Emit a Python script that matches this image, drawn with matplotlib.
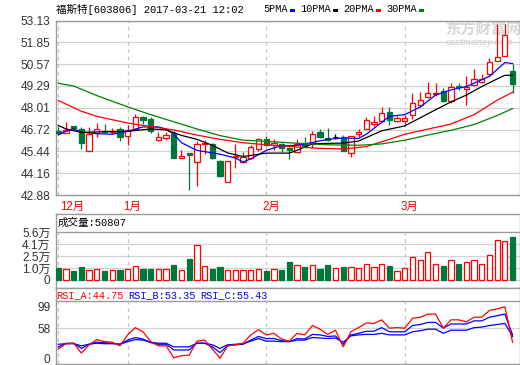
import matplotlib
matplotlib.use('Agg')
import matplotlib.pyplot as plt
import numpy as np
from matplotlib.transforms import blended_transform_factory

# ---------------- data ----------------
opens = [46.62, 46.52, 46.92, 46.78, 45.46, 46.54, 46.66, 46.56, 46.78, 46.33,
         46.78, 47.47, 47.37, 46.11, 46.25, 46.48, 45.05, 45.33, 44.81, 45.89,
         45.89, 44.89, 43.67, 45.10, 44.81, 45.05, 45.58, 46.19, 45.79, 45.87,
         45.67, 45.38, 45.91, 45.89, 46.58, 46.23, 46.31, 46.29, 45.34, 46.46,
         46.76, 47.06, 47.21, 47.77, 47.21, 47.25, 47.55, 48.15, 48.63, 48.83,
         48.98, 48.43, 49.30, 49.12, 49.32, 49.51, 50.01, 50.75, 51.05, 50.16]
highs = [46.85, 47.17, 46.96, 46.88, 46.86, 47.11, 47.07, 46.82, 46.85, 46.97,
         47.61, 47.53, 47.45, 46.58, 46.58, 46.62, 45.50, 45.35, 46.07, 46.13,
         45.95, 44.92, 44.89, 45.89, 45.42, 45.79, 46.23, 46.32, 46.17, 45.95,
         45.72, 46.19, 46.31, 46.62, 46.78, 46.82, 46.47, 46.42, 46.37, 46.78,
         47.47, 47.50, 48.04, 48.06, 47.52, 47.60, 48.85, 48.95, 49.51, 49.48,
         49.14, 49.48, 49.48, 49.87, 50.26, 50.01, 50.95, 52.92, 52.95, 50.56]
lows = [46.40, 46.50, 46.75, 45.58, 45.46, 46.29, 46.50, 46.45, 46.03, 45.82,
        46.70, 47.06, 46.52, 46.07, 46.09, 45.05, 45.05, 43.16, 43.43, 45.28,
        45.01, 43.96, 43.67, 44.46, 44.75, 44.99, 45.44, 45.76, 45.54, 45.40,
        45.01, 45.38, 45.64, 45.64, 46.25, 46.05, 46.15, 45.44, 45.14, 46.26,
        46.76, 46.96, 47.18, 47.01, 47.15, 47.07, 47.37, 48.06, 48.60, 48.67,
        48.35, 48.30, 49.02, 48.15, 49.28, 49.45, 49.87, 50.75, 51.05, 48.89]
closes = [46.52, 46.72, 46.80, 45.93, 46.47, 46.78, 46.58, 46.64, 46.26, 46.72,
          47.47, 47.27, 46.62, 46.29, 46.39, 45.05, 45.18, 45.25, 45.89, 45.96,
          45.08, 44.00, 44.89, 45.18, 45.11, 45.70, 46.15, 45.83, 45.93, 45.64,
          45.50, 45.89, 45.76, 46.47, 46.31, 46.11, 46.31, 45.44, 46.37, 46.58,
          47.31, 47.19, 47.71, 47.31, 47.41, 47.41, 48.30, 48.45, 48.89, 48.89,
          48.39, 49.22, 49.24, 49.24, 49.71, 49.71, 50.72, 51.01, 52.29, 49.42]

# volume in 万 (10k shares)
volumes = [1.41, 1.33, 1.06, 1.53, 1.17, 1.25, 1.06, 1.14, 1.17, 1.29,
           1.60, 1.29, 1.29, 1.25, 1.29, 1.76, 1.17, 2.46, 4.07, 1.60,
           1.29, 1.53, 1.21, 1.21, 1.17, 1.21, 1.25, 1.06, 1.29, 1.17,
           2.11, 1.72, 1.53, 1.72, 1.29, 1.76, 1.37, 1.53, 1.53, 1.37,
           1.88, 1.49, 1.88, 1.64, 1.06, 1.37, 2.66, 2.31, 3.25, 1.88,
           1.64, 2.31, 1.88, 2.11, 2.31, 1.88, 2.90, 4.66, 4.54, 5.08]

# moving averages: (candle index, value)
ma5_idx = [0, 1, 2, 3, 5, 7, 9, 11, 13, 14, 15, 16, 18, 21, 23, 24, 25, 27, 29, 31,
           33, 35, 37, 39, 40, 42, 43, 45, 47, 49, 51, 53, 56, 58, 59]
ma5_val = [46.42, 46.62, 46.76, 46.58, 46.48, 46.45, 46.62, 46.88, 46.88, 46.75,
           46.45, 45.95, 45.50, 45.28, 45.05, 44.82, 45.00, 45.50, 45.78, 45.79,
           45.97, 46.15, 46.23, 46.20, 46.45, 47.15, 47.50, 47.60, 48.05, 48.75,
           49.05, 49.25, 49.85, 50.66, 50.60]
ma10_idx = [0, 1, 3, 6, 9, 12, 14, 16, 18, 20, 22, 24, 27, 30, 31, 33, 37, 39, 40, 42,
            45, 48, 51, 53, 55, 57, 58, 59]
ma10_val = [46.96, 46.76, 46.55, 46.60, 46.62, 46.76, 46.70, 46.38, 46.15, 45.80,
            45.35, 45.14, 45.34, 45.34, 45.50, 45.89, 45.93, 46.05, 46.25, 46.65,
            46.94, 47.65, 48.35, 48.75, 49.25, 49.70, 49.91, 49.91]
ma20_idx = [0, 3, 5, 9, 12, 15, 18, 21, 24, 27, 31, 34, 37, 40, 43, 45, 48, 51, 54, 57, 59]
ma20_val = [48.43, 47.80, 47.50, 47.11, 46.90, 46.70, 46.40, 46.15, 45.95, 45.83,
            45.70, 45.62, 45.58, 45.72, 46.15, 46.45, 46.75, 47.05, 47.60, 48.45, 48.92]
ma30_idx = [0, 2, 5, 9, 12, 15, 18, 21, 24, 27, 31, 35, 39, 42, 45, 48, 51, 54, 57, 59]
ma30_val = [49.44, 49.28, 48.72, 48.06, 47.60, 47.18, 46.76, 46.37, 46.10, 46.03,
            45.92, 45.83, 45.80, 45.88, 46.10, 46.40, 46.68, 47.02, 47.55, 47.96]

rsi_a = [18, 28, 29, 10, 26, 36, 32, 31, 24, 45, 59, 51, 32, 24, 24, 1, 5, 6, 33, 35,
         18, 0, 24, 26, 29, 45, 55, 45, 48, 37, 33, 48, 45, 63, 56, 46, 54, 22, 51, 59,
         68, 67, 74, 58, 59, 58, 77, 79, 85, 85, 58, 74, 74, 70, 79, 79, 92, 95, 99, 31]
rsi_b = [22, 29, 29, 19, 27, 31, 30, 29, 27, 35, 40, 37, 30, 27, 27, 16, 16, 16, 29, 29,
         22, 11, 24, 26, 27, 35, 42, 38, 38, 34, 32, 38, 37, 46, 45, 42, 43, 27, 45, 48,
         52, 52, 59, 51, 51, 51, 63, 65, 69, 69, 58, 66, 66, 66, 72, 72, 79, 82, 85, 45]
rsi_c = [27, 28, 28, 24, 27, 29, 28, 28, 27, 32, 36, 35, 31, 29, 29, 22, 22, 22, 29, 29,
         26, 19, 26, 27, 28, 33, 38, 33, 33, 32, 32, 35, 35, 40, 39, 38, 39, 31, 43, 45,
         46, 46, 48, 45, 45, 45, 51, 53, 56, 56, 48, 54, 54, 54, 59, 60, 63, 65, 67, 42]

price_ticks = [42.88, 44.16, 45.44, 46.72, 48.01, 49.29, 50.57, 51.85, 53.13]
vol_max = 5.6
vol_tick_labels = ['0', '1.0万', '2.5万', '4.1万', '5.6万']
rsi_ticks = [0, 58, 99]
month_labels = ['12月', '1月', '2月', '3月']
month_idx = [0, 9, 27, 45]

title_text = '福斯特[603806] 2017-03-21 12:02'
ma_names = ['5PMA', '10PMA', '20PMA', '30PMA']
vol_title = '成交量:50807'
rsi_titles = ['RSI_A:44.75', 'RSI_B:53.35', 'RSI_C:55.43']

# ---------------- styling ----------------
RED = '#ff0000'
GREEN = '#00773a'
MA_COLORS = ['#0000ff', '#000000', '#ff0000', '#008000']
GRID = '#d2d2d2'
BORDER = '#9a9a9a'
MONO = ['Liberation Mono', 'Noto Sans CJK SC']
plt.rcParams['font.family'] = ['Liberation Sans', 'Noto Sans CJK SC']

W, H = 520, 365
fig = plt.figure(figsize=(W / 100, H / 100), dpi=100)
fig.patch.set_facecolor('white')


def rect(l, t, r, b):
    return [l / W, 1 - b / H, (r - l) / W, (b - t) / H]


ax = fig.add_axes(rect(56, 20.5, 519.5, 195))
axv = fig.add_axes(rect(56, 214.3, 519.5, 288.3))
axr = fig.add_axes(rect(56, 288.3, 519.5, 364))

n = len(closes)
x = np.arange(n)
o = np.array(opens); c = np.array(closes); hi = np.array(highs); lo = np.array(lows)
up = c > o
dn = c < o
flat = c == o
XL = (-0.30, 59.9)
BW = 0.68

for a in (ax, axv, axr):
    a.set_xlim(*XL)
    a.set_xticks([])
    for s in a.spines.values():
        s.set_color(BORDER)
        s.set_linewidth(1.0)
    a.tick_params(axis='y', length=0, pad=4, labelsize=8.6, labelcolor='#333333')
    a.set_axisbelow(True)

# ---- main price panel ----
ax.set_ylim(price_ticks[0], price_ticks[-1])
ax.set_yticks(price_ticks)
ax.set_yticklabels([f'{v:.2f}' for v in price_ticks])
for v in price_ticks:
    ax.axhline(v, color=GRID, lw=0.9, zorder=0.5)
for k in month_idx:
    ax.axvline(k, color='#c4c4c4', lw=0.9, ls=(0, (3, 3)), zorder=0.6)

wick_cols = np.where(up, RED, np.where(dn, GREEN, 'black'))
ax.vlines(x, lo, hi, colors=wick_cols, lw=0.9, zorder=2)
body_bottom = np.minimum(o, c)
body_h = np.abs(c - o)
ax.bar(x[up], body_h[up], bottom=body_bottom[up], width=BW, facecolor='white',
       edgecolor=RED, lw=0.9, zorder=3)
ax.bar(x[dn], body_h[dn], bottom=body_bottom[dn], width=BW, facecolor=GREEN,
       edgecolor=GREEN, lw=0.9, zorder=3)
ax.hlines(c[flat], x[flat] - BW / 2, x[flat] + BW / 2, colors='black', lw=0.9, zorder=3)

for idx, val, col in zip([ma5_idx, ma10_idx, ma20_idx, ma30_idx],
                         [ma5_val, ma10_val, ma20_val, ma30_val], MA_COLORS):
    ax.plot(idx, val, color=col, lw=0.9, zorder=4)

# watermark
ax.text(445 / W, 1 - 29 / H, '东方财富网', transform=fig.transFigure, fontsize=11,
        fontweight='bold', color='#d6d6d6', family=['Noto Sans CJK SC'],
        va='center', ha='left', zorder=0.8, clip_on=False)
ax.text(446 / W, 1 - 42.5 / H, 'eastmoney.com', transform=fig.transFigure, fontsize=6.5,
        fontweight='bold', style='italic', color='#d6d6d6', va='center', ha='left',
        zorder=0.8, clip_on=False)

# month labels under the main panel
bt = blended_transform_factory(ax.transData, ax.transAxes)
for lab, k in zip(month_labels, month_idx):
    xpos = k + 0.22 if k == 0 else k - 0.55
    ax.text(xpos, -0.069, lab, transform=bt, color=RED, fontsize=8.3, ha='left',
            va='center', family=['Liberation Sans', 'Noto Sans CJK SC'], clip_on=False)

# title and legend
fig.text(56.5 / W, 1 - 9.5 / H, title_text, family=MONO, fontsize=7.6, color='black',
         ha='left', va='center')
leg_x = [263.3, 300.7, 343.3, 386.7]
for name, col, lx in zip(ma_names, MA_COLORS, leg_x):
    fig.text(lx / W, 1 - 9.5 / H, name, family=MONO, fontsize=7.4, color='black',
             ha='left', va='center')
    sq_x = lx + len(name) * 5.95 + 3
    fig.patches.append(plt.Rectangle((sq_x / W, 1 - 11.6 / H), 5 / W, 2.8 / H,
                                     transform=fig.transFigure, facecolor=col,
                                     edgecolor='none'))

# ---- volume panel ----
vpx = (280 - 232.3) / vol_max
axv.set_ylim(-(288.3 - 280) / vpx, vol_max + (232.3 - 214.3) / vpx)
vol_tick_pos = np.linspace(0, vol_max, len(vol_tick_labels))  # evenly spaced grid rows
axv.set_yticks(vol_tick_pos)
axv.set_yticklabels(vol_tick_labels)
for v in vol_tick_pos[:-1]:
    axv.axhline(v, color=GRID, lw=0.9, zorder=0.5)
axv.axhline(vol_max, color=BORDER, lw=1.0, zorder=0.5)
for k in month_idx:
    axv.vlines(k, 0, vol_max, color='#c4c4c4', lw=0.9, ls=(0, (3, 3)), zorder=0.6)
vol = np.array(volumes)
vup = c >= o
axv.bar(x[vup], vol[vup], width=BW, facecolor='white', edgecolor=RED, lw=0.9, zorder=3)
axv.bar(x[~vup], vol[~vup], width=BW, facecolor=GREEN, edgecolor=GREEN, lw=0.9, zorder=3)
axv.text(57.5 / W, 1 - 223 / H, vol_title, transform=fig.transFigure, family=MONO,
         fontsize=7.6, color='black', ha='left', va='center')

# ---- RSI panel ----
rpx = (358.3 - 306.3) / 100
sep_val = (358.3 - 301) / rpx
axr.set_ylim(-(364 - 358.3) / rpx, 100 + (306.3 - 288.3) / rpx)
axr.set_yticks(rsi_ticks)
axr.set_yticklabels([str(v) for v in rsi_ticks])
axr.axhline(58, color=GRID, lw=0.9, zorder=0.5)
axr.axhline(sep_val, color=BORDER, lw=1.0, zorder=0.5)
for k in month_idx:
    axr.vlines(k, axr.get_ylim()[0], sep_val, color='#c4c4c4', lw=0.9, ls=(0, (3, 3)), zorder=0.6)
axr.plot(x, rsi_c, color='#0000ff', lw=0.9, zorder=3)
axr.plot(x, rsi_b, color='#0000ff', lw=0.9, zorder=3)
axr.plot(x, rsi_a, color=RED, lw=0.9, zorder=4)
rsi_cols = [RED, '#0000ff', '#0000ff']
rsi_x = [56.7, 128.5, 200.3]
for t, col, rx in zip(rsi_titles, rsi_cols, rsi_x):
    fig.text(rx / W, 1 - 295 / H, t, family=MONO, fontsize=7.4, color=col,
             ha='left', va='center')

fig.savefig('out.png', dpi=100, facecolor='white')
